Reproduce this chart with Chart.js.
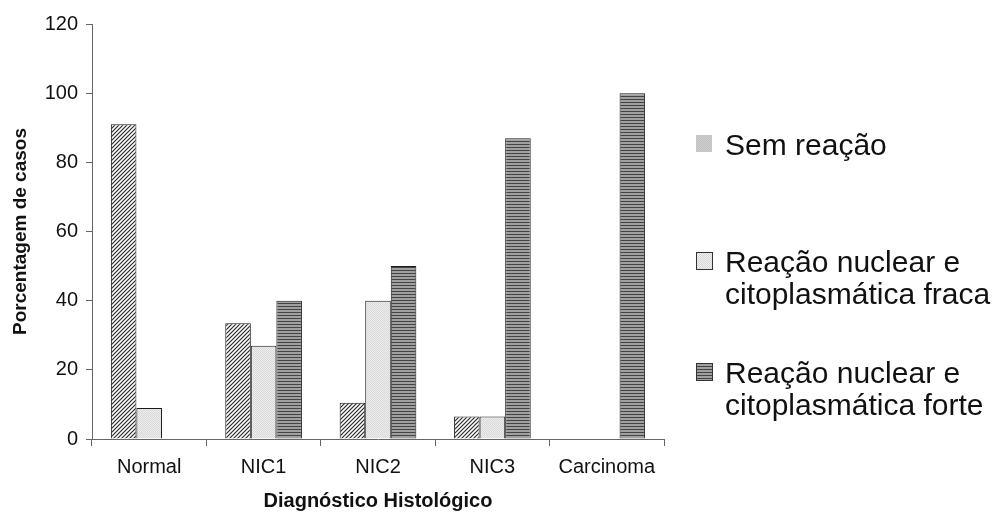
<!DOCTYPE html>
<html>
<head>
<meta charset="utf-8">
<script src="https://cdn.jsdelivr.net/npm/chart.js@4.4.0/dist/chart.umd.min.js"></script>
<style>
  html, body { margin: 0; padding: 0; background: #fff; }
  #wrap { width: 1008px; height: 516px; }
</style>
</head>
<body>
<div id="wrap"><canvas id="grafico" width="1008" height="516"></canvas></div>
<script>
// Dados do gráfico
const categorias = ['Normal', 'NIC1', 'NIC2', 'NIC3', 'Carcinoma'];
const semReacao = [91, 33.5, 10.5, 6.5, 0];
const reacaoFraca = [9, 27, 40, 6.5, 0];
const reacaoForte = [0, 40, 50, 87, 100];
const legendaTextos = [['Sem reação'], ['Reação nuclear e', 'citoplasmática fraca'], ['Reação nuclear e', 'citoplasmática forte']];
const ticksY = [0, 20, 40, 60, 80, 100, 120];

const fonte = "'Liberation Sans', Arial, sans-serif";

// Padrões de preenchimento (hachuras)
function padraoDiagonal() {
    const c = document.createElement('canvas');
    c.width = 4; c.height = 4;
    const g = c.getContext('2d');
    g.fillStyle = '#ffffff';
    g.fillRect(0, 0, 4, 4);
    g.strokeStyle = '#2a2a2a';
    g.lineWidth = 1.2;
    g.beginPath();
    g.moveTo(-1, 5); g.lineTo(5, -1);
    g.moveTo(-1, 1); g.lineTo(1, -1);
    g.moveTo(3, 5); g.lineTo(5, 3);
    g.stroke();
    return g.createPattern(c, 'repeat');
}

function padraoPontilhado(fundo, ponto) {
    const c = document.createElement('canvas');
    c.width = 2; c.height = 2;
    const g = c.getContext('2d');
    g.fillStyle = fundo;
    g.fillRect(0, 0, 2, 2);
    g.fillStyle = ponto;
    g.fillRect(0, 0, 1, 1);
    g.fillRect(1, 1, 1, 1);
    return g.createPattern(c, 'repeat');
}

function padraoHorizontal() {
    const c = document.createElement('canvas');
    c.width = 3; c.height = 3;
    const g = c.getContext('2d');
    g.fillStyle = '#a0a0a0';
    g.fillRect(0, 0, 3, 3);
    g.fillStyle = '#444444';
    g.fillRect(0, 0, 3, 1);
    return g.createPattern(c, 'repeat');
}

const pHachura = padraoDiagonal();
const pFraca = padraoPontilhado('#eeeeee', '#d8d8d8');
const pForte = padraoHorizontal();
const pLegendaSem = padraoPontilhado('#d0d0d0', '#bdbdbd');

// Legenda desenhada à mão (texto em duas linhas)
const legendaPlugin = {
    id: 'legendaLateral',
    afterDraw(chart) {
        const ctx = chart.ctx;
        const itens = [
            { fill: pLegendaSem, borda: false, y: 135 },
            { fill: pFraca, borda: true, y: 252 },
            { fill: pForte, borda: true, y: 363 }
        ];
        ctx.save();
        ctx.font = '30px ' + fonte;
        ctx.textBaseline = 'alphabetic';
        itens.forEach((it, i) => {
            ctx.fillStyle = it.fill;
            ctx.fillRect(696, it.y, 16, 17);
            if (it.borda) {
                ctx.strokeStyle = '#333';
                ctx.lineWidth = 1;
                ctx.strokeRect(696.5, it.y + 0.5, 16, 17);
            }
            ctx.fillStyle = '#111';
            legendaTextos[i].forEach((linha, j) => {
                ctx.fillText(linha, 725, it.y + 20 + j * 32);
            });
        });
        ctx.restore();
    }
};

const ctx = document.getElementById('grafico').getContext('2d');
const grafico = new Chart(ctx, {
    type: 'bar',
    data: {
        labels: categorias,
        datasets: [
            { label: legendaTextos[0].join(' '), data: semReacao, backgroundColor: pHachura, borderColor: '#1a1a1a', borderWidth: 1 },
            { label: legendaTextos[1].join(' '), data: reacaoFraca, backgroundColor: pFraca, borderColor: '#1a1a1a', borderWidth: 1 },
            { label: legendaTextos[2].join(' '), data: reacaoForte, backgroundColor: pForte, borderColor: '#1a1a1a', borderWidth: 1 }
        ]
    },
    options: {
        responsive: false,
        animation: false,
        datasets: { bar: { categoryPercentage: 0.67, barPercentage: 1 } },
        layout: { padding: { top: 24, right: 344, left: 0, bottom: 0 } },
        plugins: {
            legend: { display: false },
            tooltip: { enabled: false }
        },
        scales: {
            x: {
                grid: { offset: true, drawOnChartArea: false, color: '#666', tickLength: 7 },
                border: { color: '#666', width: 1 },
                ticks: { color: '#111', font: { family: fonte, size: 20 }, padding: 9 },
                title: {
                    display: true,
                    text: 'Diagnóstico Histológico',
                    color: '#111',
                    font: { family: fonte, size: 20, weight: 'bold' },
                    padding: { top: 0, bottom: 3 }
                },
                afterFit(scale) { scale.height = 77; }
            },
            y: {
                min: 0,
                max: 120,
                afterBuildTicks(scale) { scale.ticks = ticksY.map(v => ({ value: v })); },
                grid: { drawOnChartArea: false, color: '#666', tickLength: 6 },
                border: { color: '#666', width: 1 },
                ticks: { color: '#111', font: { family: fonte, size: 20 }, padding: 8 },
                title: {
                    display: true,
                    text: 'Porcentagem de casos',
                    color: '#111',
                    font: { family: fonte, size: 19, weight: 'bold' },
                    padding: { top: 9, bottom: 0 }
                },
                afterFit(scale) { scale.width = 92; }
            }
        }
    },
    plugins: [legendaPlugin]
});
</script>
</body>
</html>
